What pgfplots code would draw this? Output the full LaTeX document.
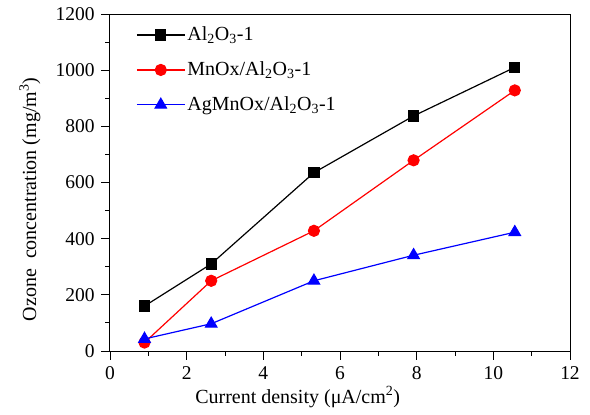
\documentclass[border=0pt]{standalone}
\usepackage{pgfplots}
\pgfplotsset{compat=1.18}
\usepackage{fontspec}
\setmainfont{Liberation Serif}

\begin{document}
\fontsize{20}{24}\selectfont
\begin{tikzpicture}
\begin{axis}[
  scale only axis, width=460pt, height=337pt,
  xmin=0, xmax=12, ymin=0, ymax=1200,
  xtick={0,2,...,12}, ytick={0,200,...,1200},
  minor x tick num=1, minor y tick num=1,
  tick align=outside, tick pos=left,
  major tick length=8.5pt, minor tick length=4.5pt,
  /pgf/number format/assume math mode=true,
  /pgf/number format/1000 sep={},
  ticklabel style={font=\fontsize{19.5}{23}\selectfont},
  label style={font=\fontsize{20}{24}\selectfont},
  xlabel={Current density (μA/cm\textsuperscript{2})},
  ylabel={Ozone\ \ concentration (mg/m\textsuperscript{3})},
  xlabel style={at={(axis description cs:0.408,-0.136)}, anchor=center},
  ylabel style={at={(axis description cs:-0.174,0.45)}, anchor=center},
  axis line style={line width=1pt},
  every tick/.style={black, line width=0.9pt},
  legend style={at={(0.05,0.975)}, anchor=north west, draw=none, fill=none,
    font=\fontsize{20}{24}\selectfont, row sep=14pt},
  legend cell align=left,
  legend image code/.code={
    \draw[mark repeat=2, mark phase=2, #1] plot coordinates {(0pt,0pt) (24pt,0pt) (48pt,0pt)};},
]
\path (rel axis cs:0,0) coordinate (sw) (rel axis cs:1,1) coordinate (ne);
\addplot[black, line width=1.2pt, mark=square*, mark size=5pt] coordinates {
  (0.9,160) (2.64,310) (5.32,635) (7.92,837) (10.56,1010)};
\addlegendentry{Al\textsubscript{2}O\textsubscript{3}-1}
\addplot[red, line width=1.2pt, mark=*, mark size=5.5pt] coordinates {
  (0.9,30) (2.64,250) (5.32,428) (7.92,679) (10.56,928)};
\addlegendentry{MnOx/Al\textsubscript{2}O\textsubscript{3}-1}
\addplot[blue, line width=1.2pt, mark=triangle*, mark size=6.5pt] coordinates {
  (0.9,43) (2.64,97) (5.32,250) (7.92,341) (10.56,423)};
\addlegendentry{AgMnOx/Al\textsubscript{2}O\textsubscript{3}-1}
\end{axis}
\path ([shift={(-110pt,-62pt)}]sw) rectangle ([shift={(20pt,14pt)}]ne);
\end{tikzpicture}
\end{document}
